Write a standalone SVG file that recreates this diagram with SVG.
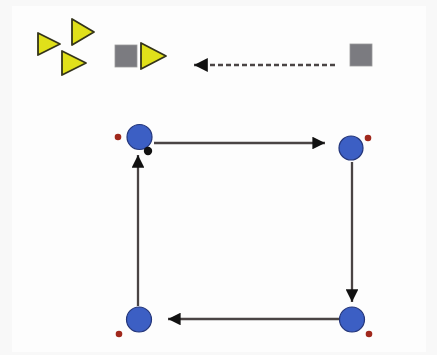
<svg xmlns="http://www.w3.org/2000/svg" width="437" height="355" viewBox="0 0 437 355">
  <defs>
    <marker id="head" viewBox="0 0 10 10" refX="10" refY="5" markerWidth="5.5" markerHeight="5.5" orient="auto" markerUnits="strokeWidth">
      <path d="M0,0 L10,5 L0,10 Z" fill="#111"/>
    </marker>
    <marker id="headSmall" viewBox="0 0 10 10" refX="10" refY="5" markerWidth="6" markerHeight="6" orient="auto" markerUnits="strokeWidth">
      <path d="M0,0 L10,5 L0,10 Z" fill="#111"/>
    </marker>
  </defs>
  <style>
    .tri { fill: #e0e01a; stroke: #34341a; stroke-width: 1.8; stroke-linejoin: round; }
    .sq { fill: #7b7b80; stroke: #9a9a9a; stroke-width: 0.8; }
    .node { fill: #3c5fc4; stroke: #24367a; stroke-width: 1.2; }
    .port { fill: #a0281c; }
    .edge { stroke: #4a4444; stroke-width: 2.3; fill: none; marker-end: url(#head); }
    .dash { stroke: #4a4444; stroke-width: 2.3; fill: none; stroke-dasharray: 5 3; marker-end: url(#headSmall); }
  </style>

  <rect width="437" height="355" fill="#f8f8f8"/>
  <rect x="12" y="6" width="414" height="346" fill="#fdfdfd"/>

  <!-- legend: triangle cluster -->
  <g id="legend-triangles">
    <polygon class="tri" points="38,33 60,44 38,55"/>
    <polygon class="tri" points="72,19 94,32 72,45"/>
    <polygon class="tri" points="62,51 86,63 62,75"/>
  </g>

  <!-- legend: square followed by triangle -->
  <g id="legend-pair">
    <rect class="sq" x="115" y="45" width="22" height="22"/>
    <polygon class="tri" points="141,43 166,56 141,69"/>
  </g>

  <!-- legend: lone square -->
  <g id="legend-square">
    <rect class="sq" x="350" y="44" width="22" height="22"/>
  </g>

  <!-- cycle nodes -->
  <g id="node-tl">
    <circle class="node" cx="139.5" cy="137" r="12.5"/>
    <circle class="port" cx="118" cy="137" r="3.3"/>
    <circle cx="148" cy="151" r="4.2" fill="#111"/>
  </g>
  <g id="node-tr">
    <circle class="node" cx="351" cy="148" r="12"/>
    <circle class="port" cx="368" cy="138" r="3.3"/>
  </g>
  <g id="node-br">
    <circle class="node" cx="352" cy="319.5" r="12.5"/>
    <circle class="port" cx="369" cy="334" r="3.3"/>
  </g>
  <g id="node-bl">
    <circle class="node" cx="139" cy="319.5" r="12.5"/>
    <circle class="port" cx="119" cy="334" r="3.3"/>
  </g>

  <!-- connectors -->
  <g id="connectors">
    <line class="dash" x1="335" y1="65" x2="194" y2="65"/>
    <line class="edge" x1="154" y1="143" x2="325" y2="143"/>
    <line class="edge" x1="352" y1="162" x2="352" y2="302"/>
    <line class="edge" x1="339" y1="319" x2="168" y2="319"/>
    <line class="edge" x1="138" y1="306" x2="138" y2="155"/>
  </g>
</svg>
